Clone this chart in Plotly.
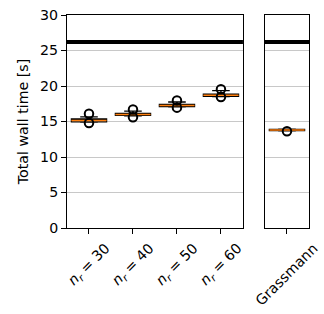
import plotly.graph_objects as go

# ---- data ----
categories = ["<i>n</i><sub><i>r</i></sub> = 30", "<i>n</i><sub><i>r</i></sub> = 40",
              "<i>n</i><sub><i>r</i></sub> = 50", "<i>n</i><sub><i>r</i></sub> = 60"]
q1 = [14.95, 15.85, 17.1, 18.55]
median = [15.15, 16.0, 17.25, 18.7]
q3 = [15.35, 16.15, 17.4, 18.85]
lower = [14.9, 15.8, 17.05, 18.5]
upper = [15.65, 16.45, 17.75, 19.35]
outliers = [[16.1, 14.8], [16.7, 15.6], [17.95, 16.95], [19.55, 18.45]]

g_category = ["Grassmann"]
g_q1 = [13.72]
g_median = [13.8]
g_q3 = [13.88]
g_lower = [13.68]
g_upper = [13.92]
g_outliers = [[13.62]]

threshold = 26.2
y_ticks = [0, 5, 10, 15, 20, 25, 30]

FONT = "DejaVu Sans"
FS = 14.2
ORANGE = "#ff7f0e"

fig = go.Figure()

def add_boxes(cats, a, m, b, lo, hi, outs, xa, ya):
    fig.add_trace(go.Box(x=cats, q1=a, median=m, q3=b, lowerfence=lo, upperfence=hi,
                         boxpoints=False, width=0.8, whiskerwidth=0.5,
                         line=dict(color="black", width=1.3), fillcolor="rgba(0,0,0,0)",
                         xaxis=xa, yaxis=ya, showlegend=False, hoverinfo="skip"))
    fig.add_trace(go.Box(x=cats, q1=m, median=m, q3=m, lowerfence=m, upperfence=m,
                         boxpoints=False, width=0.8, whiskerwidth=0,
                         line=dict(color=ORANGE, width=1.5), fillcolor="rgba(0,0,0,0)",
                         xaxis=xa, yaxis=ya, showlegend=False, hoverinfo="skip"))
    xs, ys = [], []
    for c, vals in zip(cats, outs):
        for v in vals:
            xs.append(c)
            ys.append(v)
    fig.add_trace(go.Scatter(x=xs, y=ys, mode="markers",
                             marker=dict(symbol="circle-open", size=8.5,
                                         color="black", line=dict(width=2, color="black")),
                             xaxis=xa, yaxis=ya, showlegend=False, hoverinfo="skip"))
    # centred, rotated category labels (matplotlib style)
    for c in cats:
        fig.add_annotation(x=c, xref=xa, y=0, yref=ya + " domain", text=c,
                           textangle=-45, showarrow=False, xanchor="center",
                           yanchor="top", yshift=-9,
                           font=dict(family=FONT, size=FS, color="black"))

add_boxes(categories, q1, median, q3, lower, upper, outliers, "x", "y")
add_boxes(g_category, g_q1, g_median, g_q3, g_lower, g_upper, g_outliers, "x2", "y2")

for xr, yr in [("x domain", "y"), ("x2 domain", "y2")]:
    fig.add_shape(type="line", xref=xr, yref=yr, x0=0, x1=1, y0=threshold, y1=threshold,
                  line=dict(color="black", width=4))

axis_common = dict(showline=True, linecolor="black", linewidth=1, mirror=True,
                   zeroline=False, tickfont=dict(family=FONT, size=FS, color="black"))

fig.update_layout(
    width=324, height=314,
    margin=dict(l=67, r=15, t=7, b=86),
    paper_bgcolor="white", plot_bgcolor="white",
    boxmode="overlay",
    font=dict(family=FONT, size=FS, color="black"),
    xaxis=dict(domain=[0, 0.727], type="category", categoryorder="array",
               categoryarray=categories, range=[-0.5, len(categories) - 0.5],
               ticks="outside", ticklen=5, tickcolor="black", showticklabels=False,
               showgrid=False, **axis_common),
    xaxis2=dict(domain=[0.818, 1], type="category", anchor="y2",
                range=[-0.5, 0.5], ticks="outside", ticklen=5, tickcolor="black",
                showticklabels=False, showgrid=False, **axis_common),
    yaxis=dict(range=[0, 30], tickvals=y_ticks, ticks="outside", ticklen=5,
               tickcolor="black", showgrid=True, gridcolor="#c8c8c8", gridwidth=1.3,
               ticklabeloverflow="allow",
               title=dict(text="Total wall time [s]", font=dict(family=FONT, size=FS),
                          standoff=8),
               **axis_common),
    yaxis2=dict(range=[0, 30], tickvals=y_ticks, anchor="x2",
                showticklabels=False, ticks="", showgrid=True, gridcolor="#c8c8c8",
                gridwidth=1.3, **axis_common),
)

fig.write_html("out.html", config={"displayModeBar": False},
               post_script="document.body.style.margin='0';")
